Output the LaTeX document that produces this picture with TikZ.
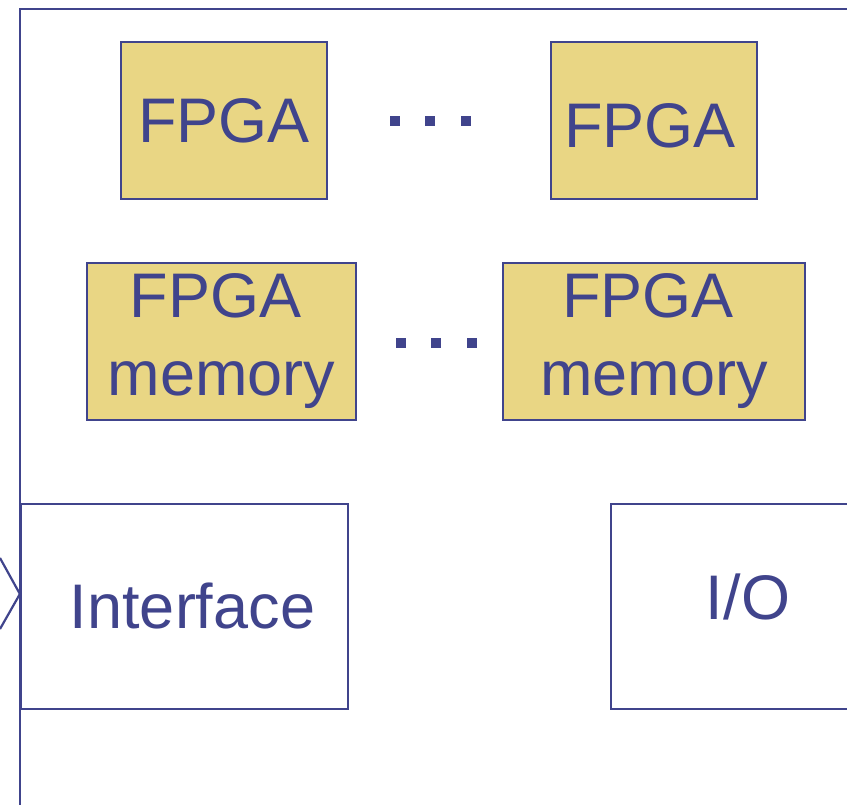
\documentclass[tikz,border=0pt]{standalone}
\usepackage{fontspec}
\setmainfont{Liberation Sans}
\usepackage{tikz}
\usetikzlibrary{positioning}

\definecolor{edge}{RGB}{64,68,140}
\definecolor{chip}{RGB}{233,214,132}

\begin{document}
\begin{tikzpicture}[
            x=1pt, y=-1pt,
            line width=2.2pt,
            every node/.style={text=edge, inner sep=0pt, align=center, font=\fontsize{63}{78}\selectfont},
            chipbox/.style={draw=edge, fill=chip},
            unitbox/.style={draw=edge, fill=white},
        ]
            \useasboundingbox (0,0) rectangle (847,805);
            \clip (0,0) rectangle (847,805);
            % board outline
            \draw[edge] (20,9) rectangle (900,900);
            % FPGAs
            \node[chipbox, minimum width=206pt, minimum height=157pt] (fpgaA) at (224,120.5) {FPGA};
            \node[chipbox, minimum width=206pt, minimum height=157pt] (fpgaB) at (654,120.5) {\hspace*{-8pt}\rule{0pt}{55pt}FPGA};
            % FPGA memories
            \node[chipbox, minimum width=269pt, minimum height=157pt] (memA) at (221.5,341.5) {FPGA\hspace*{12pt}\\memory};
            \node[chipbox, minimum width=302pt, minimum height=157pt] (memB) at (654,341.5) {FPGA\hspace*{12pt}\\memory};
            % interface and I/O
            \node[unitbox, minimum width=327pt, minimum height=205pt] (iface) at (184.5,606.5) {\hspace*{16pt}Interface};
            \node[unitbox, minimum width=274pt, minimum height=205pt] (io) at (748,606.5) {I/O\rule[-20pt]{0pt}{0pt}};
            % ellipses between the rows
            \foreach \x in {395,430,466} \fill[edge] (\x-5,116) rectangle (\x+5,126);
            \foreach \x in {401,436,472} \fill[edge] (\x-5,338) rectangle (\x+5,348);
            % incoming link
            \coordinate (tip) at (iface.west |- 0,594);
            \draw[edge] (0,558) -- (tip) -- (0,629);
        \end{tikzpicture}
\end{document}
